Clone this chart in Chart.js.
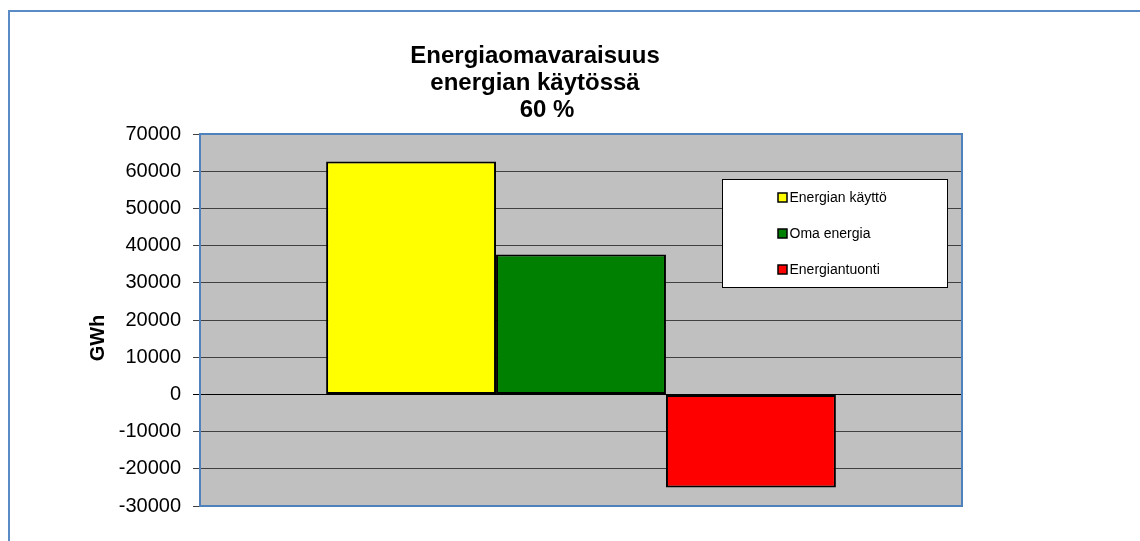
<!DOCTYPE html>
<html><head><meta charset="utf-8">
<script src="https://cdn.jsdelivr.net/npm/chart.js@4.4.1/dist/chart.umd.min.js"></script>
<style>html,body{margin:0;padding:0;background:#fff;overflow:hidden}canvas{display:block}</style>
</head><body>
<canvas id="c" width="1140" height="541"></canvas>
<script>
const categories = [''];
const seriesNames = ['Energian käyttö', 'Oma energia', 'Energiantuonti'];
const energianKaytto = [62600];
const omaEnergia = [37600];
const energiantuonti = [-25000];
const seriesColors = ['#FFFF00', '#008000', '#FF0000'];
const titleLines = ['Energiaomavaraisuus', 'energian käytössä', '60 %'];
const yAxisTitle = 'GWh';
const yMin = -30000, yMax = 70000, yStep = 10000;

const FONT = '"Liberation Sans", Arial, sans-serif';

const deco = {
  id: 'deco',
  beforeDraw(chart) {
    const { ctx, chartArea: a } = chart;
    ctx.save();
    ctx.fillStyle = '#fff';
    ctx.fillRect(0, 0, chart.width, chart.height);
    ctx.fillStyle = '#C0C0C0';
    ctx.fillRect(a.left, a.top, a.right - a.left, a.bottom - a.top);
    ctx.strokeStyle = '#5B8BC7';
    ctx.lineWidth = 2;
    ctx.beginPath();
    ctx.moveTo(9, chart.height + 4);
    ctx.lineTo(9, 11);
    ctx.lineTo(chart.width + 4, 11);
    ctx.stroke();
    ctx.restore();
  },
  afterDraw(chart) {
    const { ctx, chartArea: a } = chart;
    const y = chart.scales.y;
    ctx.save();
    // x axis tick at right end of zero line
    const y0 = Math.round(y.getPixelForValue(0)) + 0.5;
    ctx.strokeStyle = '#000';
    ctx.lineWidth = 1;
    ctx.beginPath();
    ctx.moveTo(a.right - 0.5, y0);
    ctx.lineTo(a.right - 0.5, y0 + 6);
    ctx.stroke();
    // plot border
    ctx.strokeStyle = '#4F81BD';
    ctx.lineWidth = 2;
    ctx.strokeRect(a.left, a.top, a.right - a.left, a.bottom - a.top);
    // title
    ctx.fillStyle = '#000';
    ctx.font = 'bold 24px ' + FONT;
    ctx.textAlign = 'center';
    ctx.textBaseline = 'alphabetic';
    const tx = [535, 535, 547];
    titleLines.forEach((t, i) => ctx.fillText(t, tx[i], 63 + i * 27));
    // y axis title
    ctx.save();
    ctx.translate(98, 338);
    ctx.rotate(-Math.PI / 2);
    ctx.font = 'bold 20px ' + FONT;
    ctx.textBaseline = 'middle';
    ctx.fillText(yAxisTitle, 0, 0);
    ctx.restore();
    // legend
    ctx.fillStyle = '#fff';
    ctx.fillRect(722.5, 179.5, 225, 108);
    ctx.strokeStyle = '#000';
    ctx.lineWidth = 1;
    ctx.strokeRect(722.5, 179.5, 225, 108);
    ctx.font = '14px ' + FONT;
    ctx.textAlign = 'left';
    ctx.textBaseline = 'middle';
    chart.data.datasets.forEach((ds, i) => {
      const yc = 197.5 + i * 36;
      ctx.fillStyle = ds.backgroundColor;
      ctx.fillRect(778, yc - 4.5, 9, 9);
      ctx.strokeStyle = '#000';
      ctx.lineWidth = 1.5;
      ctx.strokeRect(778, yc - 4.5, 9, 9);
      ctx.fillStyle = '#000';
      ctx.fillText(ds.label, 789.5, yc + 0.5);
    });
    ctx.restore();
  }
};

const seriesData = [energianKaytto, omaEnergia, energiantuonti];

new Chart(document.getElementById('c'), {
  type: 'bar',
  data: {
    labels: categories,
    datasets: seriesNames.map((n, i) => ({
      label: n,
      data: seriesData[i],
      backgroundColor: seriesColors[i],
      borderColor: '#000',
      borderWidth: 2,
      borderSkipped: false,
      categoryPercentage: 0.669,
      barPercentage: 1
    }))
  },
  options: {
    responsive: false,
    devicePixelRatio: 1,
    animation: false,
    layout: { padding: { top: 134, bottom: 35, left: 0, right: 178 } },
    plugins: { legend: { display: false }, title: { display: false }, tooltip: { enabled: false } },
    scales: {
      x: { display: false },
      y: {
        min: yMin, max: yMax,
        afterFit(s) { s.width = 200; },
        border: { display: false },
        grid: {
          color: c => (c.tick && c.tick.value === 0) ? '#000' : '#404040',
          tickColor: c => (c.tick && c.tick.value === 0) ? '#000' : '#404040',
          tickLength: 7,
          lineWidth: 1
        },
        ticks: {
          stepSize: yStep,
          padding: 12,
          color: '#000',
          font: { family: FONT, size: 20 },
          callback: v => String(v)
        }
      }
    }
  },
  plugins: [deco]
});
</script>
</body></html>
